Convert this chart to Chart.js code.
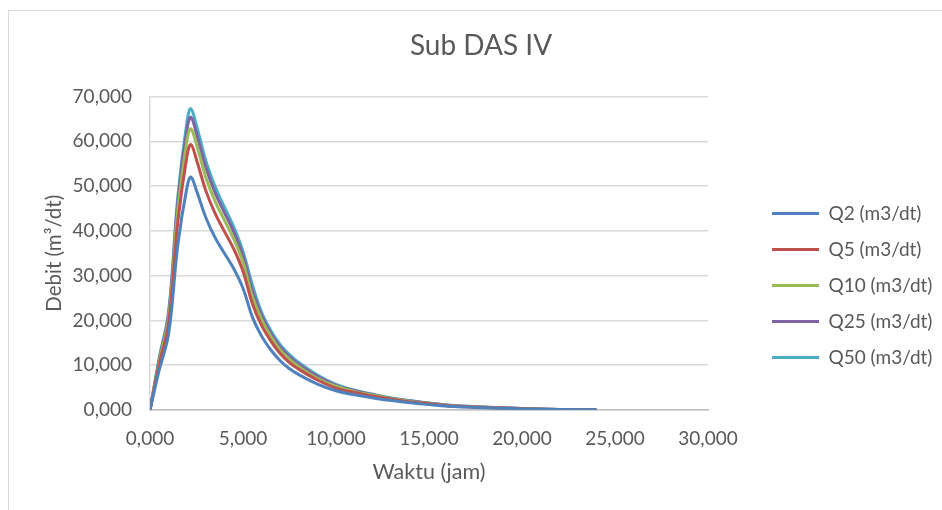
<!DOCTYPE html>
<html>
<head>
<meta charset="utf-8">
<script src="https://cdn.jsdelivr.net/npm/chart.js@4.4.0/dist/chart.umd.min.js"></script>
<style>
  html, body { margin: 0; padding: 0; background: #fff; }
  #wrap { position: relative; width: 942px; height: 510px; overflow: hidden; }
  #frame { position: absolute; left: 8px; top: 10px; width: 980px; height: 540px; border: 1px solid #d9d9d9; }
  #chart { position: absolute; left: 0; top: 0; }
</style>
</head>
<body>
<div id="wrap">
  <div id="frame"></div>
  <canvas id="chart" width="942" height="510"></canvas>
</div>
<script>
// data (waktu in jam, debit in m3/dt)
var waktu = [0, 0.5, 1, 1.5, 2, 2.2, 2.5, 3, 3.5, 4, 4.5, 5, 5.5, 6, 6.5, 7, 7.5, 8, 9, 10, 11, 12, 13, 14, 15, 16, 17, 18, 20, 22, 24];
var q2  = [0, 9.0, 17.0, 37.0, 50.0, 52.0, 49.0, 43.0, 38.5, 35.0, 31.6, 27.2, 20.8, 16.5, 13.4, 11.0, 9.2, 7.9, 5.8, 4.3, 3.4, 2.7, 2.1, 1.6, 1.2, 0.85, 0.65, 0.5, 0.25, 0.1, 0.05];
var q5  = [0, 10.3, 19.4, 42.2, 57.0, 59.3, 55.9, 49.0, 43.9, 39.9, 36.0, 31.0, 23.8, 18.9, 15.4, 12.6, 10.6, 9.1, 6.7, 4.9, 3.9, 3.1, 2.4, 1.8, 1.4, 0.97, 0.74, 0.57, 0.29, 0.11, 0.06];
var q10 = [0, 10.9, 20.6, 44.8, 60.5, 62.8, 59.3, 52.0, 46.6, 42.4, 38.2, 33.0, 25.4, 20.2, 16.4, 13.4, 11.3, 9.7, 7.1, 5.3, 4.1, 3.3, 2.5, 1.9, 1.45, 1.03, 0.79, 0.6, 0.3, 0.12, 0.06];
var q25 = [0, 11.3, 21.4, 46.6, 63.0, 65.4, 61.7, 54.2, 48.5, 44.1, 39.8, 34.4, 26.7, 21.1, 17.1, 14.1, 11.9, 10.2, 7.5, 5.5, 4.3, 3.4, 2.6, 2.0, 1.5, 1.07, 0.82, 0.63, 0.31, 0.13, 0.06];
var q50 = [0, 11.7, 22.0, 47.9, 64.7, 67.3, 63.5, 55.7, 49.9, 45.3, 40.9, 35.4, 28.0, 21.8, 17.7, 14.6, 12.4, 10.6, 7.8, 5.7, 4.4, 3.5, 2.7, 2.1, 1.55, 1.1, 0.84, 0.65, 0.32, 0.13, 0.06];

var seriesNames = ["Q2 (m3/dt)", "Q5 (m3/dt)", "Q10 (m3/dt)", "Q25 (m3/dt)", "Q50 (m3/dt)"];
var seriesColors = ["#4F81BD", "#C0504D", "#9BBB59", "#8064A2", "#4BACC6"];
var xTickLabels = ["0,000", "5,000", "10,000", "15,000", "20,000", "25,000", "30,000"];
var yTickLabels = ["0,000", "10,000", "20,000", "30,000", "40,000", "50,000", "60,000", "70,000"];

var txt = "#595959";
var fontName = "Lato, 'Open Sans', sans-serif";

function points(vals) {
  return waktu.map(function (t, i) {
    return { x: t, y: vals[i] };
  });
}

var allSeries = [q2, q5, q10, q25, q50];
var datasets = allSeries.map(function (vals, i) {
  return {
    label: seriesNames[i],
    data: points(vals),
    yAxisID: "y",
    borderColor: seriesColors[i],
    backgroundColor: seriesColors[i],
    borderWidth: 3,
    showLine: true,
    pointRadius: 0,
    pointHoverRadius: 0,
    tension: 0.4,
    fill: false,
  };
});

var ctx = document.getElementById("chart").getContext("2d");

var chart = new Chart(ctx, {
  type: "scatter",
  data: { datasets: datasets },
  options: {
    responsive: false,
    animation: false,
    layout: {
      padding: { left: 20, right: 0, top: 10, bottom: 18 },
    },
    plugins: {
      tooltip: { enabled: false },
      title: {
        display: true,
        text: "Sub DAS IV",
        color: txt,
        font: { family: fontName, size: 28, weight: "normal" },
        padding: { top: 19, bottom: 34 },
      },
      legend: {
        position: "right",
        maxWidth: 187,
        title: {
          display: true,
          text: " ",
          color: "rgba(0,0,0,0)",
          font: { size: 10 },
          padding: { top: 28.5, bottom: 28.5 },
        },
        labels: {
          color: txt,
          font: { family: fontName, size: 19 },
          usePointStyle: true,
          pointStyle: "line",
          pointStyleWidth: 47,
          padding: 17,
        },
      },
    },
    scales: {
      x: {
        type: "linear",
        min: 0,
        max: 30,
        afterFit: function (scale) {
          scale.height = 510 - 18 - 410;
        },
        ticks: {
          stepSize: 5,
          color: txt,
          padding: 17,
          maxRotation: 0,
          font: { family: fontName, size: 19 },
          callback: function (value, index) {
            return xTickLabels[index];
          },
        },
        grid: { display: false, drawTicks: false },
        border: { display: true, color: "#bfbfbf", width: 1.5 },
        title: {
          display: true,
          text: "Waktu (jam)",
          color: txt,
          font: { family: fontName, size: 21.5 },
          padding: { top: 0, bottom: 6.6 },
        },
      },
      y: {
        type: "linear",
        position: "left",
        min: 0,
        max: 70,
        afterFit: function (scale) {
          scale.width = 150 - 20;
        },
        ticks: {
          stepSize: 10,
          color: txt,
          padding: 18,
          font: { family: fontName, size: 19 },
          callback: function (value, index) {
            return yTickLabels[index];
          },
        },
        grid: { color: "#d9d9d9", lineWidth: 1.5, drawTicks: false },
        border: { display: true, color: "#d9d9d9", width: 1.5 },
        title: {
          display: true,
          text: "Debit (m³/dt)",
          color: txt,
          font: { family: fontName, size: 20.5 },
          padding: { top: 21.7, bottom: 0 },
        },
      },
      // empty right-hand spacer between the plot and the legend
      gap: {
        type: "linear",
        position: "right",
        display: true,
        ticks: { display: false },
        grid: { display: false, drawTicks: false },
        border: { display: false },
        afterFit: function (scale) {
          scale.width = 47;
        },
      },
    },
  },
});
</script>
</body>
</html>
